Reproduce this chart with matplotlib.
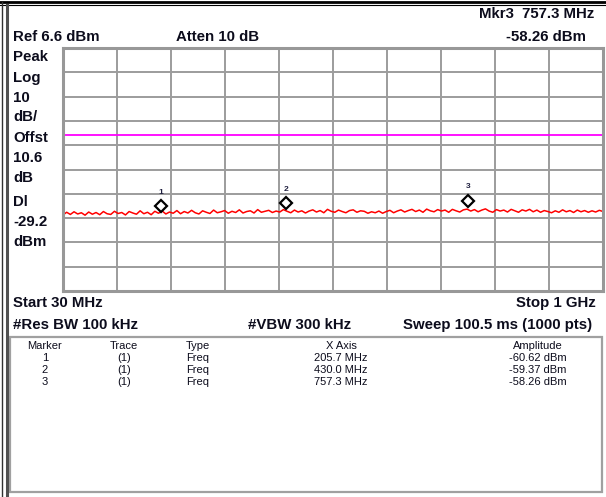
import numpy as np
import matplotlib
matplotlib.use("Agg")
import matplotlib.pyplot as plt
from matplotlib.lines import Line2D
from matplotlib.patches import Rectangle
import matplotlib.transforms as mtransforms

W, H = 606, 497

# analyzer settings
ref_level = 6.6      # dBm, top of screen
db_per_div = 10
start_mhz = 30
stop_mhz = 1000
display_line = -29.2

# trace (dBm) from left to right
trace_dbm = [
    -62.1, -61.0, -61.9, -60.8, -61.7, -61.2, -62.2, -60.9, -61.8, -61.1,
    -62.0, -60.7, -61.6, -61.9, -60.6, -61.5, -61.1, -62.1, -60.7, -61.3,
    -61.8, -60.4, -61.6, -61.0, -62.0, -60.6, -61.4, -60.5, -61.7, -60.9,
    -61.4, -60.3, -61.6, -60.7, -61.3, -60.2, -61.2, -61.7, -60.4, -61.0,
    -61.5, -60.1, -61.2, -60.8, -60.3, -61.4, -60.6, -61.1, -60.0, -61.3,
    -60.7, -60.4, -61.3, -59.9, -61.0, -60.6, -60.2, -61.1, -60.5, -60.9,
    -59.9, -60.6, -61.2, -60.1, -60.9, -60.4, -61.3, -60.5, -60.0, -60.9,
    -60.3, -61.2, -59.8, -60.6, -61.0, -60.1, -60.7, -61.2, -60.3, -60.0,
    -61.0, -60.4, -60.6, -61.4, -60.8, -61.2, -60.5, -61.4, -60.7, -60.2,
    -61.2, -60.5, -60.0, -60.9, -60.3, -59.8, -60.7, -60.1, -61.0, -59.7,
    -60.4, -60.8, -59.9, -60.5, -60.1, -61.0, -59.8, -60.4, -60.9, -60.0,
    -59.7, -60.5, -59.9, -60.8, -60.1, -59.6, -60.5, -61.0, -59.9, -60.5,
    -60.1, -60.9, -59.8, -60.4, -61.0, -60.0, -60.5, -59.8, -60.8, -60.1,
    -61.0, -60.3, -60.7, -61.2, -60.4, -61.0, -60.0, -60.8, -60.3, -61.1,
    -60.1, -60.8, -60.3, -61.0, -60.4, -60.9, -60.2, -60.7,
]

# markers
marker_ids = ["1", "2", "3"]
marker_mhz = [205.7, 430.0, 757.3]
marker_dbm = [-60.62, -59.37, -58.26]


def fx(px):
    return px / W


def fy(py):
    return 1 - py / H


fig = plt.figure(figsize=(W / 100, H / 100), dpi=100)
fig.patch.set_facecolor("white")

font = ["Liberation Sans", "DejaVu Sans"]
txt_col = "#0c0c1c"

# screen / graticule
ax = fig.add_axes([fx(63), fy(291), fx(603) - fx(63), fy(48) - fy(291)])
ax.set_xlim(start_mhz, stop_mhz)
ax.set_ylim(ref_level - 10 * db_per_div, ref_level)
ax.set_xticks(np.linspace(start_mhz, stop_mhz, 11))
ax.set_yticks(np.linspace(ref_level - 10 * db_per_div, ref_level, 11))
ax.grid(True, color="#9c9c9c", linewidth=1.4)
ax.tick_params(length=0, labelbottom=False, labelleft=False)
for sp in ax.spines.values():
    sp.set_color("#989898")
    sp.set_linewidth(2.2)

freqs = np.linspace(start_mhz, stop_mhz, len(trace_dbm))
ax.plot(freqs, trace_dbm, color="#ff0000", linewidth=1.1)
ax.axhline(display_line, color="#ff00ff", linewidth=1.3)

# markers (diamond sits just above the marked point, number above that)
diam_off = mtransforms.offset_copy(ax.transData, fig=fig, x=0, y=5, units="dots")
lab_off = mtransforms.offset_copy(ax.transData, fig=fig, x=0, y=19, units="dots")
ax.plot(marker_mhz, marker_dbm, linestyle="none", marker="D", markersize=6.5,
        markerfacecolor="white", markeredgecolor="black", markeredgewidth=1.6,
        transform=diam_off, zorder=5)
for m, f, a in zip(marker_ids, marker_mhz, marker_dbm):
    ax.text(f, a, m, transform=lab_off, ha="center", va="center",
            fontsize=6, fontweight="bold", color="#202040", family=font)

# header text
bold = dict(fontsize=10.8, fontweight="bold", color=txt_col, family=font, va="center")
fig.text(fx(594), fy(14), "Mkr3  757.3 MHz", ha="right", **bold)
fig.text(fx(586), fy(37), "-58.26 dBm", ha="right", **bold)
fig.text(fx(13), fy(37), "Ref 6.6 dBm", ha="left", **bold)
fig.text(fx(176), fy(37), "Atten 10 dB", ha="left", **bold)

side_labels = ["Peak", "Log", "10", "dB/", "Offst", "10.6", "dB", "Dl", "-29.2", "dBm"]
side_y = [57, 78, 98, 117, 138, 158, 178, 202, 222, 242]
for s, y in zip(side_labels, side_y):
    fig.text(fx(13), fy(y), s, ha="left", **bold)

fig.text(fx(13), fy(303), "Start 30 MHz", ha="left", **bold)
fig.text(fx(596), fy(303), "Stop 1 GHz", ha="right", **bold)
fig.text(fx(13), fy(325), "#Res BW 100 kHz", ha="left", **bold)
fig.text(fx(248), fy(325), "#VBW 300 kHz", ha="left", **bold)
fig.text(fx(592), fy(325), "Sweep 100.5 ms (1000 pts)", ha="right", **bold)

# marker table
fig.patches.append(Rectangle((fx(10), fy(492)), fx(602) - fx(10), fy(337) - fy(492),
                             transform=fig.transFigure, fill=False,
                             edgecolor="#a0a0a0", linewidth=1.6))
small = dict(fontsize=8, color=txt_col, family=font, va="center")
col_x = [45, 124, 186, 341, 538]
col_ha = ["center", "center", "left", "center", "center"]
headers = ["Marker", "Trace", "Type", "X Axis", "Amplitude"]
for h, x, ha in zip(headers, col_x, col_ha):
    fig.text(fx(x), fy(346), h, ha=ha, **small)
for i, (m, f, a) in enumerate(zip(marker_ids, marker_mhz, marker_dbm)):
    y = 358 + 12 * i
    row = [m, "(1)", "Freq", f"{f:.1f} MHz", f"{a:.2f} dBm"]
    for v, x, ha in zip(row, col_x, col_ha):
        fig.text(fx(x), fy(y), v, ha=ha, **small)

# outer frame lines
fig.lines.append(Line2D([0, 1], [fy(2), fy(2)], transform=fig.transFigure, color="black", linewidth=2))
fig.lines.append(Line2D([0, 1], [fy(5), fy(5)], transform=fig.transFigure, color="black", linewidth=0.8))
fig.lines.append(Line2D([fx(2), fx(2)], [0, fy(2)], transform=fig.transFigure, color="#303030", linewidth=1))
fig.lines.append(Line2D([fx(7), fx(7)], [0, fy(5)], transform=fig.transFigure, color="#505050", linewidth=2.2))

fig.savefig("out.png", dpi=100)
